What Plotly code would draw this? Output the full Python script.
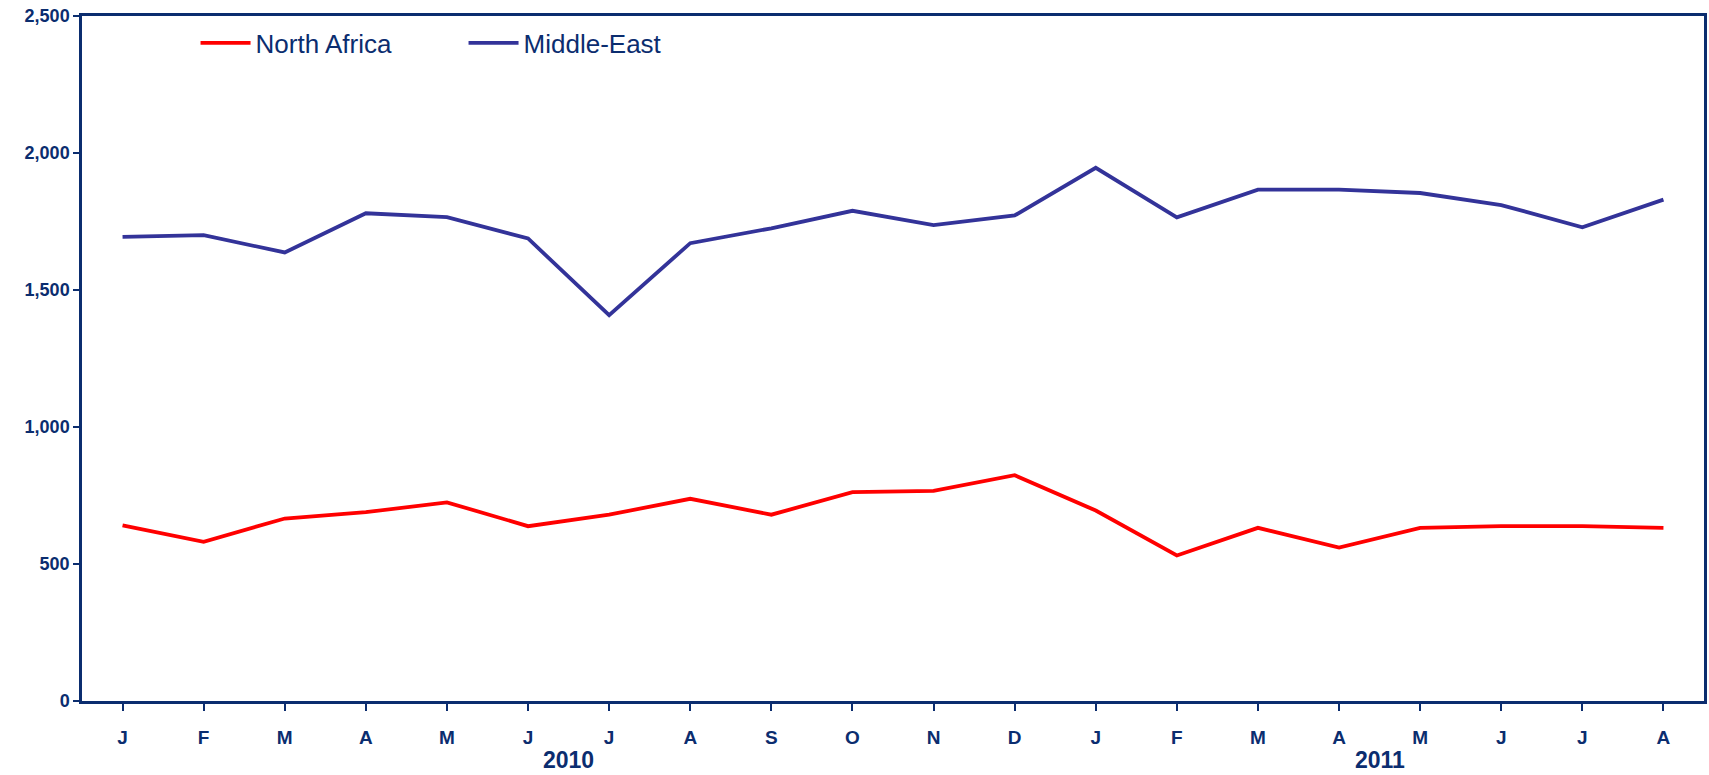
import plotly.graph_objects as go

months = ["J", "F", "M", "A", "M", "J", "J", "A", "S", "O", "N", "D",
          "J", "F", "M", "A", "M", "J", "J", "A"]
years = ["2010", "2011"]
year_spans = [(0, 11), (12, 19)]

north_africa = [641, 581, 666, 689, 725, 638, 680, 738, 680, 762, 767, 824,
                695, 531, 632, 560, 632, 638, 638, 632]
middle_east = [1694, 1700, 1637, 1780, 1766, 1688, 1408, 1671, 1725, 1789, 1737, 1772,
               1946, 1765, 1866, 1866, 1854, 1810, 1729, 1830]

NAVY = "#0B2D6F"
FONT = "Liberation Sans, Arial, sans-serif"
LEGEND_FONT = "Liberation Sans Narrow, Arial Narrow, Liberation Sans, sans-serif"

x_idx = list(range(len(months)))

fig = go.Figure()
fig.add_trace(go.Scatter(x=x_idx, y=north_africa, mode="lines", name="North Africa",
                         line=dict(color="#FF0000", width=3.8)))
fig.add_trace(go.Scatter(x=x_idx, y=middle_east, mode="lines", name="Middle-East",
                         line=dict(color="#333399", width=3.8)))

for label, (a, b) in zip(years, year_spans):
    fig.add_annotation(x=(a + b) / 2, y=0, xref="x", yref="paper", yshift=-59,
                       yanchor="middle",
                       text=f"<b>{label}</b>", showarrow=False,
                       font=dict(family=FONT, size=23, color=NAVY))

fig.update_layout(
    width=1709, height=775,
    margin=dict(l=82, r=2, t=16, b=74),
    paper_bgcolor="white", plot_bgcolor="white",
    showlegend=True,
    legend=dict(orientation="h", x=0.07, y=0.995, xanchor="left", yanchor="top",
                font=dict(family=LEGEND_FONT, size=26, color=NAVY),
                entrywidth=203, entrywidthmode="pixels",
                bgcolor="rgba(0,0,0,0)", itemwidth=50),
    xaxis=dict(
        tickmode="array", tickvals=x_idx, ticktext=[f"<b>{m}</b>" for m in months],
        range=[-0.5, len(months) - 0.5],
        showline=True, linecolor=NAVY, linewidth=2.5, mirror=True,
        ticks="outside", ticklen=7, tickcolor=NAVY, tickwidth=1.5,
        showgrid=False, zeroline=False,
        tickfont=dict(family=FONT, size=19, color=NAVY),
        ticklabelstandoff=10,
        tickson="boundaries",
    ),
    yaxis=dict(
        range=[0, 2500], dtick=500, tickformat=",",
        showline=True, linecolor=NAVY, linewidth=2.5, mirror=True,
        ticks="outside", ticklen=6, tickcolor=NAVY, tickwidth=1.5,
        showgrid=False, zeroline=False,
        tickfont=dict(family=FONT, size=18, color=NAVY, weight="bold"),
    ),
)

fig.write_html("out.html", config={"displayModeBar": False},
               post_script="document.body.style.margin='0';document.body.style.padding='0';")
